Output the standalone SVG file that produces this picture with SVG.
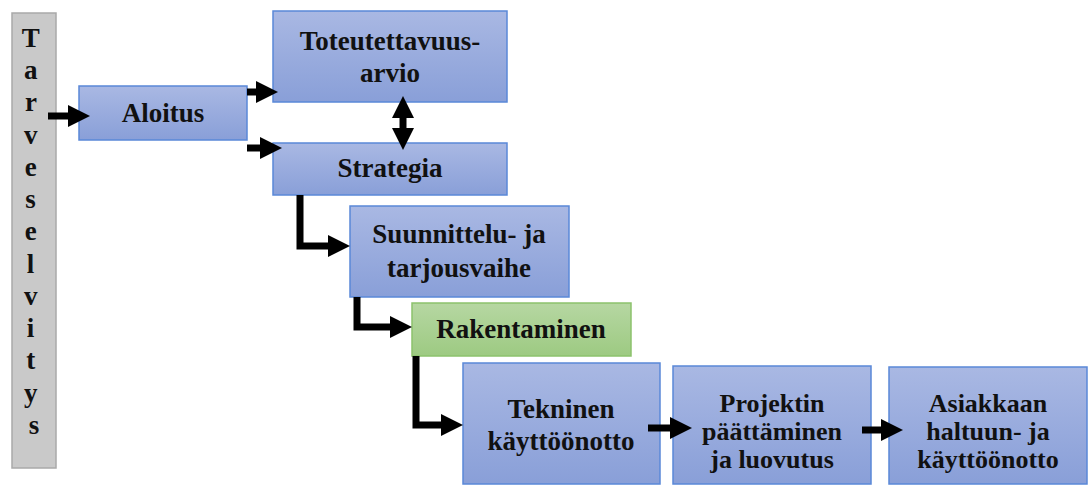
<svg xmlns="http://www.w3.org/2000/svg" width="1091" height="485" viewBox="0 0 1091 485">
  <defs>
    <linearGradient id="blueFill" x1="0" y1="0" x2="0" y2="1">
      <stop offset="0" stop-color="#a9b8e3"/>
      <stop offset="1" stop-color="#899fd8"/>
    </linearGradient>
    <linearGradient id="greenFill" x1="0" y1="0" x2="0" y2="1">
      <stop offset="0" stop-color="#b6d7a2"/>
      <stop offset="1" stop-color="#9dca82"/>
    </linearGradient>
    <marker id="head" markerUnits="userSpaceOnUse" markerWidth="22" markerHeight="22" refX="8" refY="11" orient="auto-start-reverse" viewBox="0 0 22 22">
      <path d="M0,0 L22,11 L0,22 Z" fill="#000"/>
    </marker>
  </defs>
  <style>
    .box { fill: url(#blueFill); stroke: #5a88d8; stroke-width: 1.5; }
    .green { fill: url(#greenFill); stroke: #8cc26c; stroke-width: 1.5; }
    .side { fill: #c9c9c9; stroke: #a9a9a9; stroke-width: 1.5; }
    .lbl { font-family: 'Liberation Serif', 'DejaVu Serif', serif; font-weight: bold; font-size: 27px; fill: #111; text-anchor: middle; }
    .sm { font-size: 26px; }
    .arrow { fill: none; stroke: #000; stroke-width: 7; stroke-linejoin: miter; marker-end: url(#head); }
  </style>

  <!-- side bar: Tarveselvitys -->
  <g id="tarveselvitys">
    <rect class="side" x="12" y="13" width="44" height="455"/>
    <text class="lbl" font-family="Liberation Serif, serif">
      <tspan x="34" y="47">T</tspan>
      <tspan x="34" y="79">a</tspan>
      <tspan x="34" y="111">r</tspan>
      <tspan x="34" y="144">v</tspan>
      <tspan x="34" y="176">e</tspan>
      <tspan x="34" y="208">s</tspan>
      <tspan x="34" y="240">e</tspan>
      <tspan x="34" y="273">l</tspan>
      <tspan x="34" y="305">v</tspan>
      <tspan x="34" y="337">i</tspan>
      <tspan x="34" y="369">t</tspan>
      <tspan x="34" y="402">y</tspan>
      <tspan x="34" y="434">s</tspan>
    </text>
  </g>

  <g id="aloitus">
    <rect class="box" x="79" y="86" width="168" height="54"/>
    <text class="lbl" x="163" y="122">Aloitus</text>
  </g>

  <g id="toteutettavuusarvio">
    <rect class="box" x="273" y="11" width="234" height="91"/>
    <text class="lbl"><tspan x="390" y="50">Toteutettavuus-</tspan><tspan x="390" y="82">arvio</tspan></text>
  </g>

  <g id="strategia">
    <rect class="box" x="273" y="143" width="234" height="52"/>
    <text class="lbl" x="390" y="177">Strategia</text>
  </g>

  <g id="suunnittelu">
    <rect class="box" x="350" y="206" width="219" height="91"/>
    <text class="lbl"><tspan x="459" y="243">Suunnittelu- ja</tspan><tspan x="459" y="277">tarjousvaihe</tspan></text>
  </g>

  <g id="rakentaminen">
    <rect class="green" x="412" y="303" width="219" height="53"/>
    <text class="lbl" x="521" y="338">Rakentaminen</text>
  </g>

  <g id="tekninen">
    <rect class="box" x="463" y="363" width="197" height="121"/>
    <text class="lbl"><tspan x="561" y="418">Tekninen</tspan><tspan x="561" y="450">käyttöönotto</tspan></text>
  </g>

  <g id="projektin">
    <rect class="box" x="673" y="366" width="198" height="118"/>
    <text class="lbl sm"><tspan x="772" y="412">Projektin</tspan><tspan x="772" y="440">päättäminen</tspan><tspan x="772" y="468">ja luovutus</tspan></text>
  </g>

  <g id="asiakkaan">
    <rect class="box" x="889" y="367" width="198" height="117"/>
    <text class="lbl sm"><tspan x="988" y="412">Asiakkaan</tspan><tspan x="988" y="440">haltuun- ja</tspan><tspan x="988" y="468">käyttöönotto</tspan></text>
  </g>

  <!-- connectors -->
  <g id="connectors">
    <path class="arrow" d="M48,116 H76"/>
    <path class="arrow" d="M247,92 H264"/>
    <path class="arrow" d="M247,148 H268"/>
    <path class="arrow" d="M403,110 V136" style="marker-start:url(#head)"/>
    <path class="arrow" d="M300,195 V246 H336"/>
    <path class="arrow" d="M357,297 V327 H398"/>
    <path class="arrow" d="M416,356 V425 H449"/>
    <path class="arrow" d="M648,428 H678"/>
    <path class="arrow" d="M862,430 H889"/>
  </g>
</svg>
